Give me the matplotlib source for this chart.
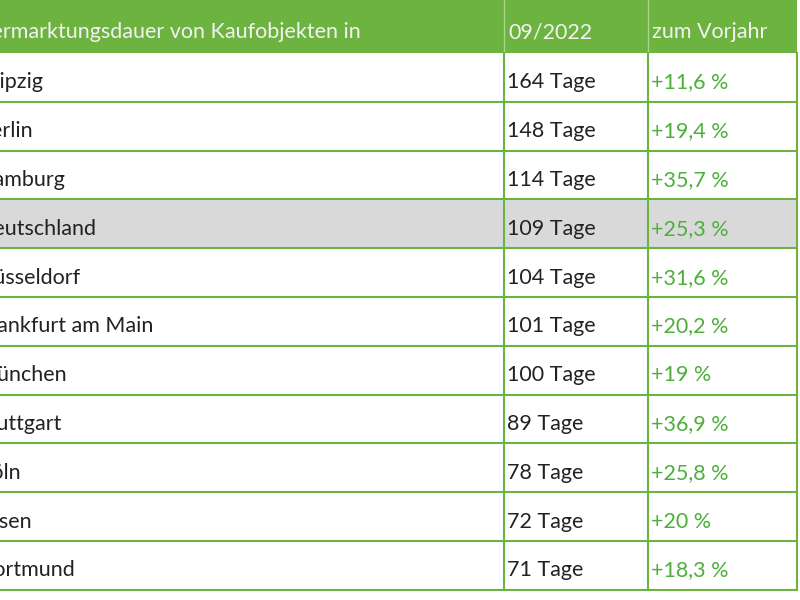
import matplotlib
matplotlib.use("Agg")
import matplotlib.pyplot as plt
from matplotlib.patches import Rectangle

headers = ["Vermarktungsdauer von Kaufobjekten in", "09/2022", "zum Vorjahr"]
cities = ["Leipzig", "Berlin", "Hamburg", "Deutschland", "Düsseldorf",
          "Frankfurt am Main", "München", "Stuttgart", "Köln", "Essen", "Dortmund"]
days = [164, 148, 114, 109, 104, 101, 100, 89, 78, 72, 71]
changes = ["+11,6 %", "+19,4 %", "+35,7 %", "+25,3 %", "+31,6 %", "+20,2 %",
           "+19 %", "+36,9 %", "+25,8 %", "+20 %", "+18,3 %"]
highlight = "Deutschland"

green = "#6DB33F"
fig = plt.figure(figsize=(8, 6), dpi=100)
ax = fig.add_axes([0, 0, 1, 1])
ax.set_xlim(0, 800)
ax.set_ylim(600, 0)
ax.axis("off")
font = ["Lato", "DejaVu Sans"]

top, hh, rh = 0, 53, 48.8
xs = [-30, 504, 648, 797]
ax.add_patch(Rectangle((-30, top), 827, hh, color=green, lw=0))
for i, h in enumerate(headers):
    ax.text(xs[i] + (4 if i else 7), top + hh / 2 + 6, h, color="#F2F2F2",
            fontsize=15.5, va="center", ha="left", family=font)
for x in xs[1:3]:
    ax.plot([x, x], [top, top + hh], color="#A9D58C", lw=1)

for r, (c, d, ch) in enumerate(zip(cities, days, changes)):
    y0 = top + hh + r * rh
    if c == highlight:
        ax.add_patch(Rectangle((-30, y0), 827, rh, color="#D9D9D9", lw=0))
    yc = y0 + rh / 2 + 5
    ax.text(xs[0] + 7, yc, c, fontsize=15.5, va="center", color="#222222", family=font)
    ax.text(xs[1] + 3, yc, f"{d} Tage", fontsize=15.5, va="center", color="#222222", family=font)
    ax.text(xs[2] + 3, yc, ch, fontsize=15.5, va="center", color="#4CAF3A", family=font)
    ax.plot([-30, 797], [y0 + rh, y0 + rh], color=green, lw=1.5)

ybot = top + hh + len(cities) * rh
for x in xs[1:]:
    ax.plot([x, x], [top + hh, ybot], color=green, lw=1.5)

fig.savefig("out.png", dpi=100, facecolor="white")
